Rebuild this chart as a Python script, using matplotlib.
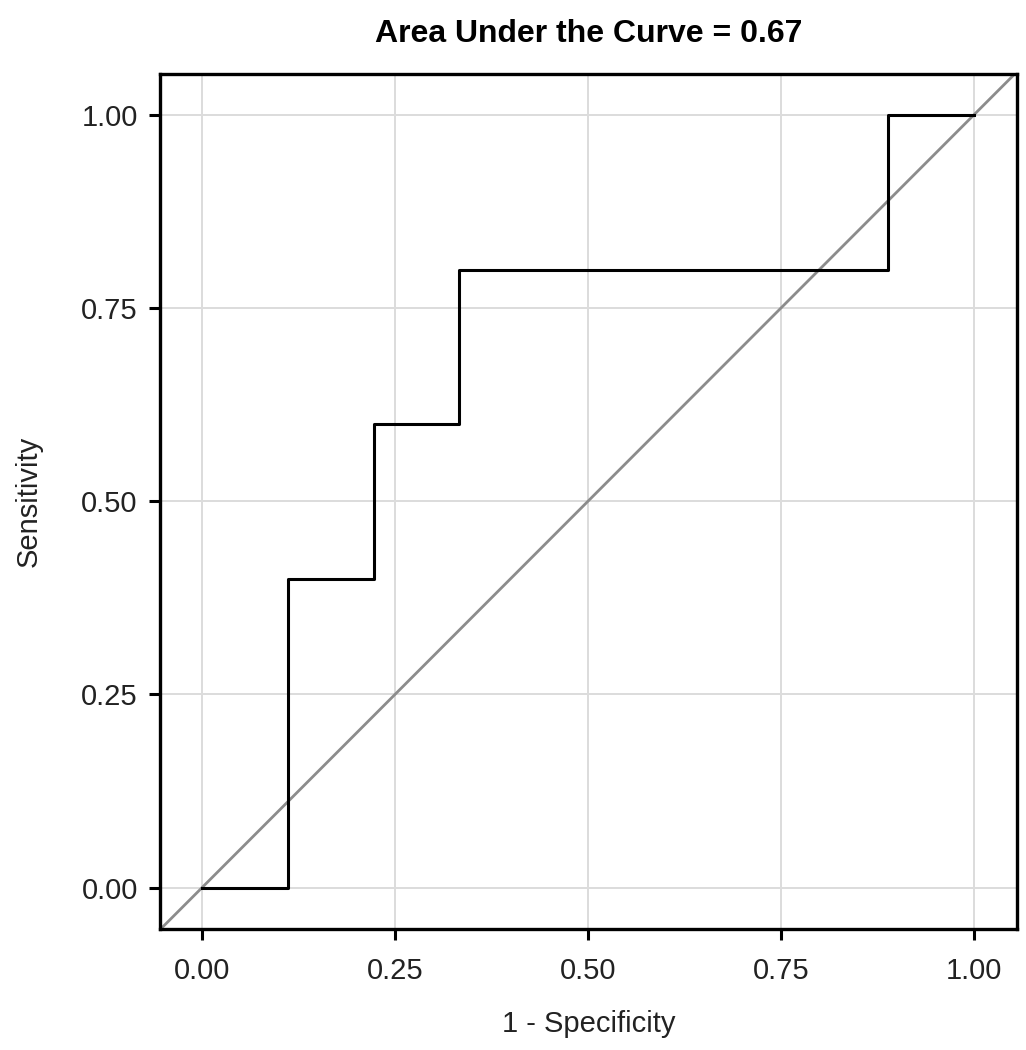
import matplotlib
matplotlib.use("Agg")
import matplotlib.pyplot as plt

# ROC curve data
fpr = [0.0, 0.1111, 0.1111, 0.2222, 0.2222, 0.3333, 0.3333, 0.8889, 0.8889, 1.0]
tpr = [0.0, 0.0, 0.4, 0.4, 0.6, 0.6, 0.8, 0.8, 1.0, 1.0]
ticks = [0.0, 0.25, 0.5, 0.75, 1.0]
tick_labels = ["0.00", "0.25", "0.50", "0.75", "1.00"]
title = "Area Under the Curve = 0.67"

plt.rcParams['font.family'] = ['Liberation Sans', 'DejaVu Sans']

fig = plt.figure(figsize=(10.26, 10.5), dpi=100)
ax = fig.add_axes([0.156, 0.115, 0.835, 0.815])

ax.set_xlim(-0.0545, 1.056)
ax.set_ylim(-0.054, 1.054)

ax.grid(True, color="#dcdcdc", linewidth=1.4)
ax.set_axisbelow(True)

ax.axline((0, 0), (1, 1), color="#8c8c8c", linewidth=2.0, zorder=2)
ax.plot(fpr, tpr, color="black", linewidth=2.2, zorder=3)

ax.set_xticks(ticks)
ax.set_xticklabels(tick_labels)
ax.set_yticks(ticks)
ax.set_yticklabels(tick_labels)
ax.tick_params(axis="both", direction="out", length=8, width=2.2, labelsize=21, colors="black")
ax.tick_params(axis="x", pad=12)
ax.tick_params(axis="y", pad=8)
for lab in ax.get_xticklabels() + ax.get_yticklabels():
    lab.set_color("#222222")

for sp in ax.spines.values():
    sp.set_linewidth(2.4)
    sp.set_color("black")

ax.set_xlabel("1 - Specificity", fontsize=21, labelpad=18, color="#222222")
ax.set_ylabel("Sensitivity", fontsize=21, labelpad=28, color="#222222")
ax.set_title(title, fontsize=23, fontweight="bold", pad=23)

fig.savefig("out.png", dpi=100)
